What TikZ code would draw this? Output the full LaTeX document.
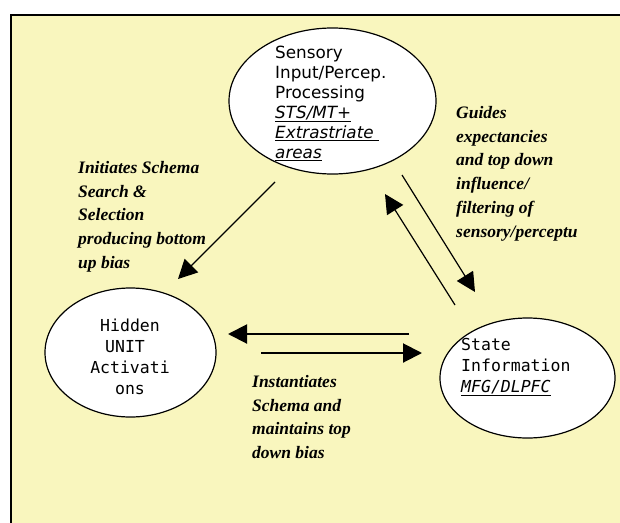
\documentclass[tikz,border=0pt]{standalone}
\usepackage{fontspec}
\usetikzlibrary{arrows.meta,shapes.geometric}
\newfontfamily\labsans{DejaVu Sans}
\newfontfamily\labmono{DejaVu Sans Mono}
\newfontfamily\labserif{Liberation Serif}
\definecolor{panelbg}{RGB}{249,246,190}
\tikzset{
  area/.style={ellipse, draw=black, line width=1.2pt, fill=white, inner sep=0pt},
  sanstext/.style={inner sep=0pt, align=left, font=\labsans\fontsize{16.8}{20}\selectfont},
  monotext/.style={inner sep=0pt, font=\labmono\fontsize{16.5}{21}\selectfont},
  note/.style={inner sep=0pt, align=left, font=\labserif\bfseries\itshape\fontsize{17.5}{23.8}\selectfont},
  flow/.style={-{Triangle[length=19pt,width=19pt]}, line width=1.2pt},
  flowthick/.style={-{Triangle[length=19pt,width=19pt]}, line width=2pt}
}
\begin{document}
\begin{tikzpicture}[x=1pt,y=-1pt]
\useasboundingbox (0,0) rectangle (620,522);
\clip (0,0) rectangle (620,522);
% panel
\fill[white] (0,0) rectangle (620,522);
\draw[fill=panelbg, line width=1.5pt] (11,15) rectangle (660,560);

% areas
\node[area, minimum width=207pt, minimum height=146pt] (sens) at (332.5,101) {};
\node[area, minimum width=171pt, minimum height=129pt] (hid) at (130.5,352.5) {};
\node[area, minimum width=175pt, minimum height=120pt] (state) at (527.5,378) {};

% area texts
\node[sanstext, anchor=north west] (senst) at (275,46)
  {Sensory\\Input/Percep.\\Processing\\\underline{\itshape STS/MT+}\\\underline{\itshape Extrastriate\ }\\\underline{\itshape areas}};
\node[monotext, align=center] (hidt) at (130,357)
  {Hidden\\UNIT\phantom{X}\\Activati\\ons};
\node[monotext, align=left, anchor=north west] (statet) at (461,338)
  {State\\Information\\\underline{\itshape MFG/DLPFC}};

% notes
\node[note, anchor=north west] (n1) at (78,161)
  {Initiates Schema\\Search \&\\Selection\\producing bottom\\up bias};
\node[note, anchor=north west] (n2) at (456,106)
  {Guides\\expectancies\\and top down\\influence/\\filtering of\\sensory/perceptu};
\node[note, anchor=north west] (n3) at (252,375)
  {Instantiates\\Schema and\\maintains top\\down bias};

% arrow end points
\coordinate (a1s) at (275,182);  \coordinate (a1e) at (178,279);
\coordinate (a2s) at (402,175);  \coordinate (a2e) at (475,292);
\coordinate (a3s) at (455,305);  \coordinate (a3e) at (385,194);
\coordinate (a4s) at (409,334);  \coordinate (a4e) at (228,334);
\coordinate (a5s) at (261,353);  \coordinate (a5e) at (422,353);

\draw[flow] (a1s) -- (a1e);
\draw[flow] (a2s) -- (a2e);
\draw[flow] (a3s) -- (a3e);
\draw[flowthick] (a4s) -- (a4e);
\draw[flowthick] (a5s) -- (a5e);
\end{tikzpicture}
\end{document}
